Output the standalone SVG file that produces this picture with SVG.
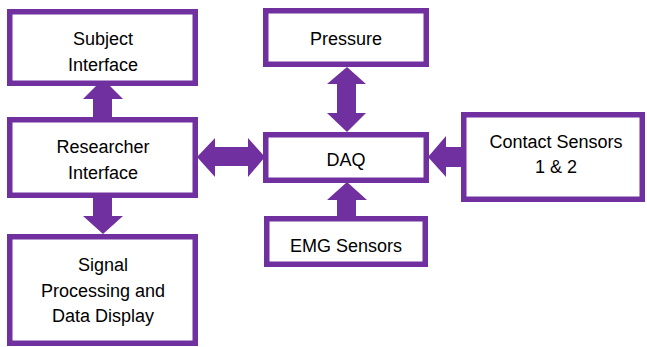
<svg xmlns="http://www.w3.org/2000/svg" width="647" height="347" viewBox="0 0 647 347">
<style>
.box{fill:#fff;stroke:#7030A0;stroke-width:5.5}
.arr{fill:#7030A0}
text{font-family:"Liberation Sans",Arial,sans-serif;font-size:18px;fill:#000;text-anchor:middle}
</style>
<rect width="647" height="347" fill="#fff"/>
<g id="connectors">
<polygon class="arr" points="93,118 93,99 83,99 103,79 123,99 112,99 112,118"/>
<polygon class="arr" points="93,197 93,216 83,216 103,234 123,216 112,216 112,197"/>
<polygon class="arr" points="347,67 366,84 356,84 356,113 366,113 347,132 327,113 337,113 337,84 327,84"/>
<polygon class="arr" points="197,157 215,138 215,147 248,147 248,138 265,157 248,177 248,166 215,166 215,177"/>
<polygon class="arr" points="462,147 446,147 446,136 428,157 446,177 446,167 462,167"/>
<polygon class="arr" points="337,217 337,200 327,200 347,182 367,200 356,200 356,217"/>
</g>
<g id="subject"><rect class="box" x="9.75" y="11.75" width="185.5" height="71.5"/><text x="103" y="45">Subject</text><text x="103" y="71">Interface</text></g>
<g id="researcher"><rect class="box" x="9.75" y="119.75" width="185.5" height="75.5"/><text x="103" y="153">Researcher</text><text x="103" y="179">Interface</text></g>
<g id="signal"><rect class="box" x="9.75" y="236.75" width="185.5" height="106.5"/><text x="103" y="271">Signal</text><text x="103" y="297">Processing and</text><text x="103" y="322">Data Display</text></g>
<g id="pressure"><rect class="box" x="265.75" y="10.75" width="160.5" height="53.5"/><text x="346" y="45">Pressure</text></g>
<g id="daq"><rect class="box" x="265.75" y="134.75" width="160.5" height="45.5"/><text x="346" y="166">DAQ</text></g>
<g id="contact"><rect class="box" x="463.75" y="114.75" width="178.5" height="84.5"/><text x="556" y="148">Contact Sensors</text><text x="556" y="173">1 &amp; 2</text></g>
<g id="emg"><rect class="box" x="266.75" y="218.75" width="158.5" height="45.5"/><text x="346" y="252">EMG Sensors</text></g>
</svg>
